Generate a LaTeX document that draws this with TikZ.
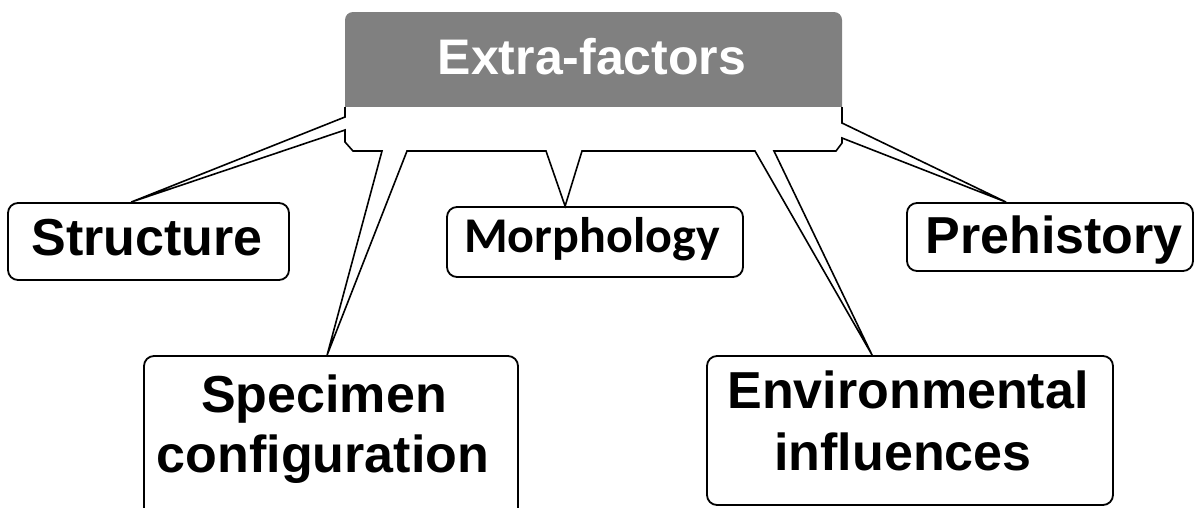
\documentclass[tikz,border=0pt]{standalone}
\usepackage{fontspec}
\setmainfont{Liberation Sans}
\newfontfamily\calibrifont{Carlito}
\definecolor{hdrgray}{RGB}{128,128,128}
\tikzset{
  box/.style={draw=black, line width=1.8pt, rounded corners=10pt, fill=white, inner sep=0pt},
  lbl/.style={anchor=base, inner sep=0pt, font=\fontsize{52}{60}\selectfont\bfseries},
  callout/.style={draw=black, fill=white, line width=1.6pt, line join=miter},
}
\begin{document}
\begin{tikzpicture}[x=1pt,y=-1pt]
\clip (0,0) rectangle (1195,507);
\fill[white] (0,0) rectangle (1195,507);

% boxes
\node[box, minimum width=281pt, minimum height=77pt] (struct) at (148.5,241.5) {};
\node[box, minimum width=296pt, minimum height=70pt] (morph) at (595,242) {};
\node[box, minimum width=286pt, minimum height=68pt] (prehist) at (1050,237) {};
\node[box, minimum width=374pt, minimum height=169pt] (spec) at (331,440.5) {};
\node[box, minimum width=406pt, minimum height=149pt] (env) at (910,430.5) {};

% wedge tips
\coordinate (tS) at ([xshift=124pt]struct.north west);
\coordinate (tSp) at ([xshift=184pt]spec.north west);
\coordinate (tM) at ([xshift=119pt]morph.north west);
\coordinate (tE) at ([xshift=166pt]env.north west);
\coordinate (tP) at ([xshift=100pt]prehist.north west);

% header
\fill[hdrgray] (345,107) [rounded corners=8pt] -- (345,12) -- (842,12) [sharp corners] -- (842,107) -- cycle;
\node[lbl, font=\fontsize{50}{60}\selectfont\bfseries, text=white] (title) at (592,74) {Extra-factors};

% callout body with wedges
\path[callout] (345,107) -- (345,117) -- (tS) -- (345,130) -- (345,142) -- (353,151)
  -- (382,151) -- (tSp) -- (407,151) -- (546,151) -- (tM) -- (582,151)
  -- (755,151) -- (tE) -- (774,151) -- (836,151) -- (842,143) -- (842,138)
  -- (tP) -- (842,123) -- (842,107);

% labels
\node[lbl] (structT) at (147,255) {Structure};
\node[lbl, font=\fontsize{50}{58}\selectfont\bfseries\calibrifont] (morphT) at (592,252) {Morphology};
\node[lbl] (prehistT) at (1054,253) {Prehistory};
\node[lbl] (specT1) at (324,412) {Specimen};
\node[lbl] (specT2) at (323,472) {configuration};
\node[lbl] (envT1) at (908,408) {Environmental};
\node[lbl] (envT2) at (903,470) {influences};
\end{tikzpicture}
\end{document}
